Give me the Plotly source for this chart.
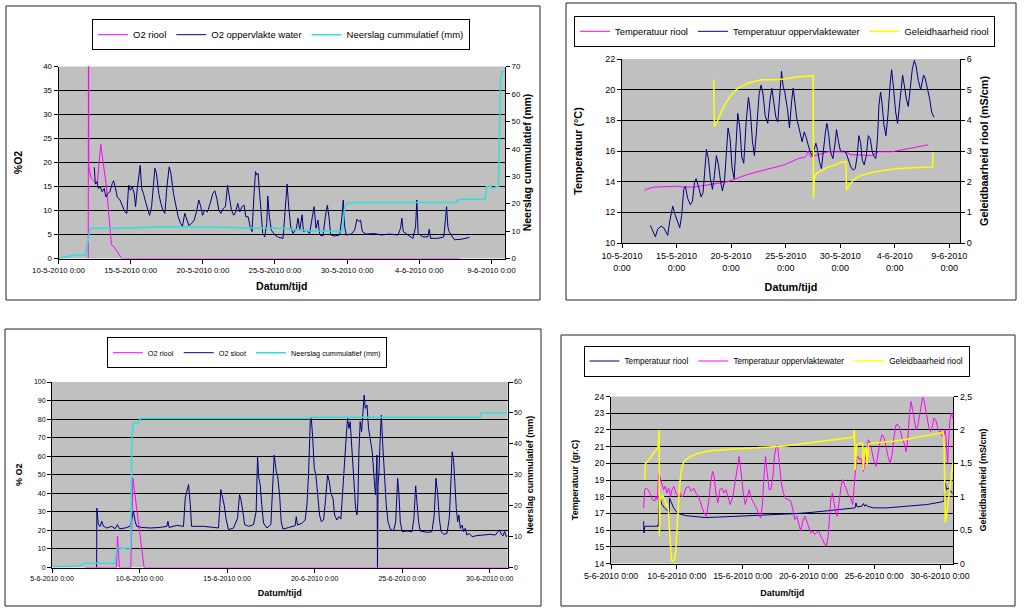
import pandas as pd
import plotly.graph_objects as go

W, H = 1024, 612
FONT = "Liberation Sans"
NAVY = "#000080"
MAGENTA = "#FF00FF"
CYAN = "#33DDDD"
YELLOW = "#FFFF00"
PLOT_BG = "#C0C0C0"

MAY0 = pd.Timestamp("2010-05-10")
JUN0 = pd.Timestamp("2010-06-05")
DAY_MS = 86400000

# ---------------- Panel 1 (10-5 .. 9-6): O2 ----------------
p1_riool_day = [2.06, 2.08, 2.10, 2.15, 2.27, 2.50, 2.69, 2.81, 2.93, 3.04, 3.16, 3.32, 3.44,
                3.56, 3.67, 3.91, 4.26, 4.38, 27.8]
p1_riool_o2 = [0, 60, 19.5, 18.2, 16.7, 16.0, 15.5, 19.8, 23.8, 21.2, 18.4, 15.0, 10.8,
               6.0, 2.9, 2.2, 0.5, 0, 0]

p1_water_day = [2.48, 2.55, 2.66, 2.76, 2.90, 3.03, 3.17, 3.29, 3.40, 3.56, 3.72, 3.82, 3.93, 4.07,
                4.26, 4.44, 4.60, 4.74, 4.86, 4.97, 5.11, 5.25, 5.34, 5.46, 5.57, 5.66, 5.76, 5.89,
                6.03, 6.17, 6.31, 6.45, 6.59, 6.68, 6.79, 6.95, 7.09, 7.23, 7.37, 7.51, 7.67, 7.79,
                7.97, 8.13, 8.29, 8.46, 8.59, 8.75, 8.89, 9.03, 9.22, 9.40, 9.56, 9.72, 9.86, 9.98,
                10.14, 10.32, 10.51, 10.69, 10.83, 10.97, 11.11, 11.25, 11.41, 11.57, 11.71, 11.85,
                11.98, 12.14, 12.28, 12.42, 12.56, 12.72, 12.86, 12.98, 13.14, 13.28, 13.41, 13.55,
                13.65, 13.74, 13.83, 13.92, 14.04, 14.15, 14.29, 14.43, 14.50, 14.61, 14.75, 14.98,
                15.26, 15.56, 15.67, 15.84, 15.95, 16.09, 16.25, 16.48, 16.60, 16.71, 16.88, 16.97,
                17.17, 17.40, 17.59, 17.71, 17.84, 17.98, 18.10, 18.33, 18.49, 18.63, 18.74, 18.86,
                19.13, 19.48, 19.64, 19.73, 19.83, 19.94, 20.29, 20.52, 20.68, 20.80, 20.93, 21.05,
                21.33, 21.90, 22.36, 22.94, 23.52, 23.70, 23.79, 23.89, 24.21, 24.56, 24.74, 24.83,
                24.92, 25.25, 25.59, 25.69, 25.78, 26.29, 26.70, 26.82, 26.89, 26.98, 27.07, 27.21,
                27.44, 27.90, 28.48]
p1_water_o2 = [19.0, 15.5, 16.0, 14.6, 14.9, 13.9, 14.6, 12.8, 13.5, 13.9, 15.6, 16.2, 14.9, 12.8,
               12.2, 10.8, 9.7, 9.4, 15.3, 14.2, 14.9, 13.5, 10.8, 14.6, 17.7, 19.4, 14.6, 13.5,
               11.8, 10.1, 9.0, 10.8, 17.0, 18.8, 17.7, 13.5, 11.5, 10.1, 9.4, 14.9, 19.1, 17.7,
               13.5, 10.8, 8.7, 7.3, 6.7, 9.4, 8.3, 6.9, 7.3, 8.0, 9.7, 12.2, 10.8, 9.0,
               10.1, 9.7, 11.5, 13.5, 14.1, 12.5, 10.1, 9.4, 10.4, 10.8, 15.3, 12.2,
               10.1, 9.0, 9.7, 11.5, 9.7, 10.8, 11.1, 8.7, 8.7, 6.6, 5.6, 13.5,
               18.1, 17.4, 17.7, 14.2, 9.4, 5.2, 4.5, 7.3, 13.0, 8.7, 5.9, 4.9,
               4.4, 4.2, 8.7, 15.5, 10.8, 6.6, 5.2, 6.3, 8.4, 5.9, 9.1, 5.6,
               5.9, 5.2, 8.7, 10.8, 6.3, 8.0, 4.9, 4.7, 8.7, 11.1, 8.7, 4.9,
               4.7, 4.9, 8.7, 12.2, 6.6, 4.9, 5.1, 5.9, 8.2, 7.7, 8.0, 5.6,
               5.1, 5.2, 4.9, 5.1, 4.9, 6.3, 8.4, 5.6, 4.9, 4.2, 6.6, 12.2,
               5.2, 4.5, 4.5, 6.1, 4.2, 4.2, 4.5, 8.7, 10.8, 6.6, 5.6, 4.9,
               3.9, 4.0, 4.4]

p1_rain_day = [0, 0.68, 1.14, 1.88, 1.95, 2.06, 2.18, 2.30, 4.37, 7.14, 11.29, 13.60, 15.33, 17.29,
               19.60, 19.71, 19.83, 20.01, 20.41, 27.56, 27.63, 27.90, 29.56, 29.65, 29.93, 30.09,
               30.33, 30.49, 30.62, 30.72, 30.90]
p1_rain_mm = [0, 0.7, 1.3, 1.3, 4.3, 6.7, 10.4, 11.0, 11.0, 11.6, 11.4, 11.0, 11.0, 10.1,
              9.8, 11.6, 18.9, 20.1, 20.4, 20.4, 21.3, 21.6, 21.6, 26.2, 26.4, 25.6,
              26.2, 26.2, 65.0, 68.1, 68.1]

# ---------------- Panel 2 (10-5 .. 9-6): temperature / conductivity ----------------
p2_riool_day = [2.05, 2.20, 2.97, 4.19, 5.11, 5.72, 6.64, 7.55, 8.78, 9.69, 10.31, 11.22, 12.45,
                13.67, 14.89, 16.15, 16.76, 16.91, 17.00, 17.12, 17.31, 17.68, 18.29, 18.90,
                19.82, 20.43, 21.05, 21.65, 22.88, 23.33, 23.49, 24.71, 26.54, 28.07]
p2_riool_temp = [13.4, 13.5, 13.65, 13.7, 13.7, 13.65, 13.65, 13.75, 13.9, 14.0, 14.15, 14.4, 14.65,
                 14.9, 15.1, 15.5, 15.6, 15.7, 16.0, 15.85, 15.6, 15.7, 15.85, 15.95,
                 15.95, 15.95, 15.75, 15.75, 15.7, 15.85, 15.95, 15.95, 16.2, 16.4]

p2_water_day = [2.60, 2.81, 3.06, 3.27, 3.58, 3.82, 4.04, 4.19, 4.37, 4.65, 4.89, 5.11, 5.29, 5.47,
                5.66, 5.81, 6.02, 6.27, 6.45, 6.64, 6.79, 7.00, 7.25, 7.43, 7.55, 7.74, 7.92, 8.10,
                8.29, 8.47, 8.65, 8.84, 9.02, 9.20, 9.39, 9.57, 9.72, 9.91, 10.09, 10.28, 10.46,
                10.61, 10.80, 10.98, 11.16, 11.38, 11.59, 11.77, 11.96, 12.14, 12.32, 12.57, 12.75,
                12.94, 13.12, 13.36, 13.55, 13.73, 13.91, 14.10, 14.28, 14.46, 14.62, 14.77,
                14.92, 15.17, 15.35, 15.54, 15.69, 15.84, 16.02, 16.30, 16.51, 16.70, 16.88, 17.06,
                17.25, 17.43, 17.61, 17.77, 17.92, 18.10, 18.28, 18.47, 18.65, 18.78, 18.93, 19.11,
                19.33, 19.51, 19.66, 19.82, 20.00, 20.19, 20.37, 20.58, 20.80, 20.98, 21.19, 21.38,
                21.56, 21.71, 21.87, 22.02, 22.20, 22.39, 22.57, 22.75, 22.94, 23.12, 23.27, 23.43,
                23.55, 23.70, 23.82, 24.01, 24.19, 24.37, 24.59, 24.71, 24.86, 25.08, 25.26, 25.41,
                25.57, 25.72, 25.87, 26.06, 26.24, 26.42, 26.60, 26.79, 26.94, 27.16, 27.37, 27.52,
                27.64, 27.80, 28.01, 28.20, 28.38, 28.59]
p2_water_temp = [11.15, 10.8, 10.4, 10.9, 11.1, 11.0, 10.7, 10.5, 11.4, 12.4, 11.8, 11.3, 11.0, 11.8,
                 13.5, 13.7, 12.9, 12.5, 12.7, 13.9, 14.2, 13.7, 13.0, 13.3, 14.6, 16.1, 15.5, 14.2,
                 13.5, 14.4, 15.7, 15.1, 14.1, 13.4, 14.0, 16.4, 17.5, 16.8, 14.9, 14.2, 16.8,
                 18.45, 17.5, 15.6, 15.2, 17.9, 19.5, 18.5, 16.6, 15.7, 17.25, 19.75, 20.3,
                 19.65, 18.3, 17.8, 19.2, 20.1, 19.2, 18.2, 17.9, 19.85, 21.2, 20.2,
                 19.86, 18.7, 17.5, 19.2, 20.1, 19.2, 18.1, 17.25, 16.6, 17.25, 16.9, 16.4,
                 15.95, 15.7, 16.2, 16.5, 16.05, 15.3, 14.85, 16.2, 17.25, 17.8, 17.15, 15.95,
                 15.5, 16.4, 17.4, 16.7, 16.05, 15.95, 16.0, 15.8, 15.3, 14.95, 14.75, 14.85,
                 15.7, 17.0, 16.55, 15.4, 15.1, 15.7, 17.0, 16.8, 15.95, 15.6, 15.5, 17.0,
                 19.0, 19.85, 19.2, 17.7, 17.0, 18.3, 20.5, 21.3, 20.3, 18.55, 17.8, 18.8,
                 20.1, 20.95, 20.3, 19.4, 18.9, 20.1, 21.3, 21.9, 21.6, 20.6, 20.0, 20.5,
                 20.95, 20.7, 20.1, 19.4, 18.55, 18.2]

p2_cond_day = [8.41, 8.47, 8.78, 9.24, 9.69, 10.06, 10.61, 11.53, 12.75, 13.98, 14.89, 16.15, 17.52,
               17.55, 17.61, 17.83, 18.29, 18.90, 19.51, 20.13, 20.52, 20.58, 20.73, 21.19, 21.80,
               22.88, 24.10, 25.32, 27.16, 28.47, 28.50]
p2_cond_ms = [5.32, 3.79, 4.0, 4.39, 4.66, 4.85, 5.04, 5.21, 5.32, 5.32, 5.35, 5.42, 5.45,
              1.45, 2.1, 2.27, 2.37, 2.48, 2.54, 2.63, 2.65, 1.72, 1.83, 2.05, 2.19,
              2.30, 2.37, 2.43, 2.46, 2.48, 2.97]

# ---------------- Panel 3 (5-6 .. 1-7): O2 ----------------
p3_riool_day = [1.9, 3.68, 3.74, 3.85, 4.50, 4.62, 5.26, 26.02]
p3_riool_o2 = [0, 0, 16.8, 0, 0, 48.3, 0, 0]

p3_sloot_day = [2.55, 2.56, 2.65, 2.75, 2.84, 2.94, 3.13, 3.42, 3.60, 3.74, 3.85, 4.18, 4.46, 4.58,
                4.65, 4.75, 4.84, 5.13, 5.61, 6.18, 6.56, 6.62, 6.69, 7.13, 7.51, 7.61, 7.70, 7.80,
                7.90, 7.97, 8.27, 8.65, 9.22, 9.51, 9.64, 9.74, 9.83, 9.95, 10.08, 10.37, 10.60,
                10.71, 10.79, 10.90, 11.00, 11.23, 11.51, 11.66, 11.74, 11.81, 11.89, 11.98, 12.08,
                12.27, 12.50, 12.69, 12.81, 12.89, 13.00, 13.09, 13.19, 13.50, 13.89, 13.95, 14.02,
                14.27, 14.46, 14.56, 14.65, 14.75, 14.81, 14.88, 14.98, 15.07, 15.17, 15.28, 15.38,
                15.51, 15.63, 15.74, 15.84, 15.93, 16.05, 16.14, 16.27, 16.39, 16.50, 16.60, 16.71,
                16.81, 16.88, 16.96, 17.03, 17.15, 17.26, 17.34, 17.42, 17.47, 17.53, 17.60, 17.68,
                17.76, 17.83, 17.89, 17.99, 18.08, 18.18, 18.29, 18.41, 18.48, 18.56, 18.59, 18.62,
                18.67, 18.75, 18.81, 18.88, 18.98, 19.09, 19.19, 19.32, 19.51, 19.63, 19.74, 19.82,
                19.89, 20.00, 20.27, 20.56, 20.67, 20.77, 20.84, 20.94, 21.03, 21.41, 21.70, 21.83,
                21.93, 22.03, 22.12, 22.22, 22.37, 22.56, 22.69, 22.79, 22.86, 22.94, 23.01, 23.09,
                23.17, 23.24, 23.32, 23.42, 23.51, 23.60, 23.70, 23.83, 23.99, 24.27, 24.65, 25.03,
                25.32, 25.55, 25.65, 25.75, 25.85, 25.94, 26.02]
p3_sloot_o2 = [0, 32.0, 23.0, 22.2, 24.9, 22.2, 21.3, 22.2, 20.9, 23.1, 20.9, 21.3, 22.2, 27.6,
               30.3, 24.9, 22.2, 21.6, 21.3, 21.6, 22.2, 24.9, 21.6, 22.7, 22.2, 37.5, 41.1, 44.7,
               33.9, 22.2, 22.2, 22.2, 21.6, 21.3, 42.0, 37.5, 33.9, 25.8, 20.4, 21.3, 26.7,
               39.3, 36.6, 30.3, 23.1, 22.2, 23.1, 30.3, 60.0, 48.3, 44.7, 33.9, 24.0,
               21.3, 23.1, 60.6, 51.7, 49.0, 39.1, 24.7, 20.7, 21.5, 22.6, 27.4, 22.9,
               23.8, 25.6, 33.7, 49.9, 78.6, 80.4, 71.4, 53.5, 49.9, 40.9, 28.3, 24.7,
               25.6, 37.3, 49.9, 46.3, 40.0, 37.3, 28.3, 25.6, 27.4, 26.1, 42.7, 57.1,
               71.4, 80.4, 75.0, 78.6, 62.4, 48.1, 31.9, 28.3, 35.5, 62.4, 78.6, 73.2,
               84.0, 93.0, 85.8, 87.6, 75.0, 69.6, 62.4, 46.3, 39.1, 60.6, 0, 44.5,
               49.9, 71.4, 82.2, 67.8, 49.9, 33.7, 24.7, 20.7, 19.7, 24.7, 48.0, 39.1,
               24.7, 19.3, 19.7, 19.3, 26.5, 44.0, 35.5, 24.7, 19.7, 19.0, 19.3, 28.3,
               48.1, 39.1, 26.5, 19.3, 17.9, 18.4, 26.5, 49.9, 62.4, 57.1, 44.5, 31.9,
               24.7, 28.3, 21.1, 22.9, 19.3, 21.1, 17.5, 18.4, 16.6, 17.2, 17.5, 17.9,
               17.5, 20.3, 18.1, 17.0, 19.4, 16.7, 17.0]

p3_rain_day = [0, 0.84, 1.60, 1.89, 3.60, 3.70, 3.89, 4.37, 4.50, 4.56, 4.65, 4.94, 5.04, 14.70,
               14.80, 24.45, 24.50, 26.02]
p3_rain_mm = [0.3, 0.3, 0.6, 1.4, 1.4, 6.3, 6.3, 5.9, 6.3, 43.0, 46.8, 46.8, 48.2, 48.2,
              48.6, 48.6, 50.0, 50.0]

# ---------------- Panel 4 (5-6 .. 1-7): temperature / conductivity ----------------
p4_riool_day = [2.48, 2.51, 2.56, 3.11, 3.54, 3.57, 3.60, 3.67, 3.74, 3.87, 4.07, 4.25, 4.38, 4.42,
                4.45, 4.58, 4.76, 4.93, 5.14, 5.64, 6.40, 7.16, 8.43, 9.69, 10.96, 12.22, 13.23,
                14.12, 15.38, 16.65, 17.91, 18.54, 18.62, 18.70, 19.05, 19.18, 19.28, 19.38, 19.48,
                19.94, 20.95, 22.47, 23.99, 25.00, 25.30, 25.40, 25.50, 25.63, 25.81, 25.96]
p4_riool_temp = [16.53, 15.83, 16.23, 16.23, 16.23, 16.33, 16.23, 18.06, 17.82, 17.53, 17.33, 17.17,
                 17.07, 17.07, 17.92, 17.63, 17.33, 17.13, 16.99, 16.87, 16.79, 16.75, 16.79, 16.83,
                 16.87, 16.91, 16.95, 16.99, 17.07, 17.19, 17.27, 17.33, 17.63, 17.39, 17.43, 17.59,
                 17.43, 17.53, 17.43, 17.33, 17.33, 17.43, 17.53, 17.67, 17.73, 18.82, 18.42, 18.52,
                 18.32, 18.18]

p4_water_day = [2.48, 2.56, 2.66, 2.81, 2.99, 3.16, 3.31, 3.42, 3.52, 3.62, 3.74, 3.87, 4.00, 4.12,
                4.25, 4.38, 4.53, 4.63, 4.78, 4.93, 5.09, 5.24, 5.39, 5.54, 5.69, 5.90, 6.10, 6.28,
                6.45, 6.65, 6.86, 7.06, 7.24, 7.41, 7.57, 7.72, 7.84, 7.97, 8.12, 8.27, 8.43, 8.58,
                8.73, 8.88, 9.06, 9.26, 9.44, 9.59, 9.74, 9.89, 10.05, 10.20, 10.35, 10.50, 10.65,
                10.80, 10.96, 11.11, 11.26, 11.39, 11.51, 11.61, 11.74, 11.87, 12.02, 12.15, 12.30,
                12.42, 12.55, 12.65, 12.80, 12.95, 13.10, 13.25, 13.49, 13.66, 13.82, 13.97, 14.12,
                14.27, 14.42, 14.57, 14.73, 14.88, 15.03, 15.18, 15.33, 15.49, 15.64, 15.79, 15.94,
                16.09, 16.24, 16.37, 16.50, 16.60, 16.70, 16.83, 16.95, 17.08, 17.20, 17.33, 17.48,
                17.61, 17.76, 17.91, 18.07, 18.22, 18.37, 18.47, 18.57, 18.67, 18.77, 18.88, 18.98,
                19.08, 19.18, 19.26, 19.33, 19.43, 19.56, 19.69, 19.84, 19.99, 20.14, 20.29, 20.45,
                20.60, 20.75, 20.90, 21.05, 21.21, 21.36, 21.51, 21.66, 21.81, 21.96, 22.11, 22.27,
                22.42, 22.55, 22.67, 22.80, 22.90, 23.03, 23.18, 23.31, 23.43, 23.56, 23.68, 23.78,
                23.91, 24.04, 24.16, 24.29, 24.42, 24.54, 24.67, 24.80, 24.92, 25.05, 25.18, 25.30,
                25.40, 25.50, 25.58, 25.66, 25.76, 25.86, 25.96]
p4_water_temp = [17.33, 18.42, 18.52, 18.42, 18.12, 17.82, 17.73, 18.02, 17.82, 19.42, 19.12, 18.82,
                 18.42, 18.62, 18.22, 18.52, 18.02, 18.42, 18.62, 18.22, 18.02, 18.22, 17.98, 18.12,
                 18.52, 18.62, 18.32, 18.52, 18.22, 18.02, 17.53, 17.03, 16.83, 17.63, 18.82, 19.52,
                 19.22, 18.22, 17.63, 18.42, 18.52, 18.22, 18.42, 18.02, 17.53, 18.02, 18.82, 19.62,
                 20.41, 19.42, 18.22, 17.53, 17.92, 18.42, 17.92, 17.63, 17.43, 17.23, 16.83, 16.73,
                 17.63, 19.02, 20.41, 19.42, 18.42, 18.42, 19.22, 20.41, 21.0, 21.1, 19.7, 18.8,
                 18.2, 17.9, 17.82, 17.73, 17.23, 16.63, 16.83, 16.43, 15.93, 16.53, 16.83, 16.53,
                 16.23, 15.83, 15.93, 15.73, 15.87, 15.93, 15.63, 15.43, 15.14, 15.04, 15.63, 16.83,
                 17.82, 18.22, 17.63, 17.03, 16.83, 17.82, 18.62, 19.02, 18.72, 18.42, 18.02, 17.92,
                 17.53, 18.62, 19.62, 20.31, 20.41, 20.22, 20.31, 20.02, 19.52, 19.92, 20.41, 21.01,
                 21.41, 21.21, 20.61, 20.12, 19.82, 20.51, 21.31, 21.71, 21.51, 21.01, 20.41, 20.02,
                 20.51, 21.61, 22.31, 22.31, 22.11, 21.51, 21.21, 20.71, 21.41, 22.9, 23.7, 23.3,
                 22.71, 22.01, 22.21, 22.8, 23.6, 23.96, 23.8, 23.2, 22.6, 22.11, 21.91, 22.21,
                 22.71, 22.6, 22.21, 21.91, 21.91, 21.61, 21.71, 22.01, 21.01, 20.02, 21.41, 22.6,
                 23.0, 22.71]

p4_cond_day = [2.56, 2.61, 2.86, 3.24, 3.57, 3.66, 3.68, 3.72, 3.80, 3.95, 4.10, 4.20, 4.28, 4.36,
               4.45, 4.52, 4.60, 4.70, 4.82, 4.92, 4.98, 5.09, 5.19, 5.31, 5.44, 5.64, 6.02, 6.65,
               7.67, 9.19, 10.70, 12.22, 13.23, 14.37, 15.89, 17.41, 18.42, 18.50, 18.55, 18.67,
               18.93, 19.13, 19.16, 19.28, 19.38, 19.46, 19.56, 19.81, 20.45, 21.46, 22.47, 23.48,
               24.49, 25.20, 25.30, 25.40, 25.50, 25.63, 25.76, 25.88, 26.01]
p4_cond_ms = [1.25, 1.49, 1.55, 1.65, 1.74, 2.0, 0.41, 0.96, 1.0, 1.01, 0.95, 0.86, 0.9, 0.8,
              0.5, 0.2, 0.05, 0.03, 0.06, 0.18, 0.41, 0.71, 1.11, 1.35, 1.48, 1.55, 1.6, 1.65,
              1.69, 1.71, 1.73, 1.75, 1.76, 1.79, 1.83, 1.86, 1.89, 2.0, 1.4, 1.78,
              1.8, 1.8, 1.4, 1.68, 1.75, 1.48, 1.78, 1.8, 1.81, 1.83, 1.86, 1.9,
              1.94, 1.96, 1.9, 0.61, 0.71, 0.96, 1.11, 1.35, 1.53]


def when(start, days):
    return start + pd.to_timedelta(days, unit="D")


def xdom(left, right):
    return [left / W, right / W]


def ydom(top, bottom):
    return [1 - bottom / H, 1 - top / H]


fig = go.Figure()


def add(start, days, vals, name, color, width, xa, ya, legend):
    fig.add_trace(go.Scatter(
        x=when(start, days), y=vals, name=name, mode="lines",
        line=dict(color=color, width=width), xaxis=xa, yaxis=ya, legend=legend))


# Panel 1
add(MAY0, p1_riool_day, p1_riool_o2, "O2 riool", MAGENTA, 1, "x", "y", "legend")
add(MAY0, p1_water_day, p1_water_o2, "O2 oppervlakte water", NAVY, 1, "x", "y", "legend")
add(MAY0, p1_rain_day, p1_rain_mm, "Neerslag cummulatief (mm)", CYAN, 1.5, "x", "y2", "legend")
# Panel 2
add(MAY0, p2_riool_day, p2_riool_temp, "Temperatuur riool", MAGENTA, 1, "x2", "y3", "legend2")
add(MAY0, p2_water_day, p2_water_temp, "Temperatuur oppervlaktewater", NAVY, 1, "x2", "y3", "legend2")
add(MAY0, p2_cond_day, p2_cond_ms, "Geleidhaarheid riool", YELLOW, 1.5, "x2", "y4", "legend2")
# Panel 3
add(JUN0, p3_riool_day, p3_riool_o2, "O2 riool", MAGENTA, 1, "x3", "y5", "legend3")
add(JUN0, p3_sloot_day, p3_sloot_o2, "O2 sloot", NAVY, 1, "x3", "y5", "legend3")
add(JUN0, p3_rain_day, p3_rain_mm, "Neerslag cummulatief (mm)", CYAN, 1.5, "x3", "y6", "legend3")
# Panel 4
add(JUN0, p4_riool_day, p4_riool_temp, "Temperatuur riool", NAVY, 1, "x4", "y7", "legend4")
add(JUN0, p4_water_day, p4_water_temp, "Temperatuur oppervlaktewater", MAGENTA, 1, "x4", "y7", "legend4")
add(JUN0, p4_cond_day, p4_cond_ms, "Geleidbaarheid riool", YELLOW, 1.5, "x4", "y8", "legend4")

BASE = dict(showline=True, linecolor="black", linewidth=1, ticks="outside", ticklen=4,
            tickcolor="black", tickwidth=1, zeroline=False, showgrid=False)


def xax(dom, anchor, start, end, fmt, fsize, tsize, standoff):
    d = dict(BASE)
    d.update(domain=dom, anchor=anchor, type="date", range=[start, end], tick0=start,
             dtick=5 * DAY_MS, tickformat=fmt,
             tickfont=dict(family=FONT, size=fsize, color="black"),
             title=dict(text="<b>Datum/tijd</b>", standoff=standoff,
                        font=dict(family=FONT, size=tsize, color="black")))
    return d


def yax(dom, anchor, rng, dtick, title, fsize, tsize, standoff, right=False, over=None):
    d = dict(BASE)
    d.update(anchor=anchor, range=rng, dtick=dtick, tick0=0,
             tickfont=dict(family=FONT, size=fsize, color="black"),
             title=dict(text="<b>" + title + "</b>", standoff=standoff,
                        font=dict(family=FONT, size=tsize, color="black")))
    if right:
        d.update(side="right", overlaying=over)
    else:
        d.update(domain=dom, showgrid=True, gridcolor="black", gridwidth=1)
    return d


def legend(cx, cy, size):
    return dict(x=cx / W, y=1 - cy / H, xanchor="center", yanchor="middle", orientation="h",
                bordercolor="black", borderwidth=1, bgcolor="white",
                font=dict(family=FONT, size=size, color="black"))


def frame(x0, y0, x1, y1):
    return dict(type="rect", xref="paper", yref="paper", x0=x0 / W, x1=x1 / W,
                y0=1 - y1 / H, y1=1 - y0 / H, line=dict(color="#222222", width=1),
                fillcolor="rgba(0,0,0,0)", layer="below")


fmt1 = "%-d-%-m-%Y %-H:%M"
fmt2 = "%-d-%-m-%Y<br>%-H:%M"

fig.update_layout(
    width=W, height=H, margin=dict(l=0, r=0, t=0, b=0, pad=0, autoexpand=False),
    paper_bgcolor="white", plot_bgcolor=PLOT_BG, separators=",.",
    font=dict(family=FONT, color="black"),
    xaxis=xax(xdom(58.5, 505), "y", MAY0, "2010-06-09 22:30", fmt1, 7.8, 10.5, 8),
    yaxis=yax(ydom(66.5, 258.5), "x", [0, 40], 5, "%O2", 7.8, 10.5, 18),
    yaxis2=yax(None, "x", [0, 70], 10, "Neerslag cummulatief (mm)", 7.8, 10.5, 3, True, "y"),
    xaxis2=xax(xdom(622, 960), "y3", MAY0, "2010-06-09 23:30", fmt2, 9, 10.8, 11.5),
    yaxis3=yax(ydom(59, 243), "x2", [10, 22], 2, "Temperatuur (°C)", 9, 10.8, 20),
    yaxis4=yax(None, "x2", [0, 6], 1, "Geleidbaarheid riool (mS/cm)", 9, 10.8, 9, True, "y3"),
    xaxis3=xax(xdom(52, 507.6), "y5", JUN0, "2010-07-01 00:30", fmt1, 7, 9, 8),
    yaxis5=yax(ydom(382, 567.5), "x3", [0, 100], 10, "% O2", 7, 9, 9),
    yaxis6=yax(None, "x3", [0, 60], 10, "Neerslag cummulatief (mm)", 7, 9, 5, True, "y5"),
    xaxis4=xax(xdom(611, 953.3), "y7", JUN0, "2010-07-01 00:15", fmt1, 8.7, 9, 9),
    yaxis7=yax(ydom(396.5, 563.5), "x4", [14, 24], 1, "Temperatuur (gr.C)", 8.7, 9, 14),
    yaxis8=yax(None, "x4", [0, 2.5], 0.5, "Geleidbaarheid (mS/cm)", 8.7, 9, 8, True, "y7"),
    legend=legend(281, 34.7, 9.5),
    legend2=legend(784.5, 31.3, 9.4),
    legend3=legend(246.8, 352.7, 7.3),
    legend4=legend(776.5, 361, 8.2),
    shapes=[frame(6, 6, 540, 300), frame(566, 3, 1016, 300),
            frame(5, 329, 541, 606), frame(561, 335, 1015, 606)],
    showlegend=True,
)

fig.write_html("out.html", config={"displayModeBar": False},
               post_script="document.body.style.margin='0px';")
